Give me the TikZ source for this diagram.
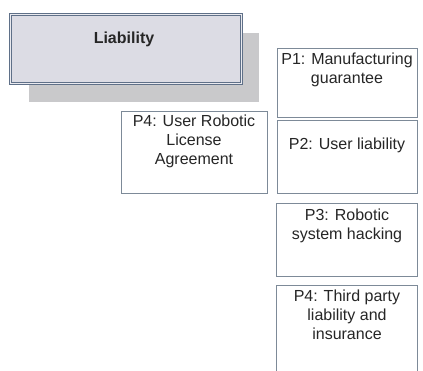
\documentclass[tikz,border=0pt]{standalone}
\usepackage{fontspec}
\setmainfont{Liberation Sans}
\definecolor{bordc}{HTML}{7D8A98}
\definecolor{shadc}{HTML}{C9C9CB}
\definecolor{mainf}{HTML}{DCDCE4}
\definecolor{mainb}{HTML}{5F7088}
\definecolor{txtc}{HTML}{262626}
\begin{document}
\begin{tikzpicture}[x=1pt,y=-1pt,
  box/.style={draw=bordc, line width=0.9pt, fill=white, rectangle, inner sep=0pt, outer sep=0pt, anchor=north west},
  txt/.style={align=center, text=txtc, inner sep=0pt, font=\fontsize{16}{19}\selectfont}]
\useasboundingbox (0,0) rectangle (423,371);
% shadow and main box
\node[rectangle, fill=shadc, inner sep=0pt, anchor=north west, minimum width=230pt, minimum height=69pt] (shadow) at (29,33) {};
\node[rectangle, fill=mainf, draw=mainb, line width=1pt, double=mainf!60!white, double distance=1.6pt, inner sep=0pt, anchor=north west, minimum width=231pt, minimum height=69pt] (main) at (10,14) {};
\node[txt, font=\bfseries\fontsize{16}{19}\selectfont] (liab) at (124,39) {Liability};
% left box
\node[box, minimum width=146pt, minimum height=82pt] (b5) at (121,111) {};
\node[txt] (t5) at (194,141) {P4: User Robotic\\License\\Agreement};
% right column
\node[box, minimum width=140pt, minimum height=69pt] (b1) at (277,48) {};
\node[txt] (t1) at (347,70) {P1: Manufacturing\\guarantee};
\node[box, minimum width=140pt, minimum height=73pt] (b2) at (277,120) {};
\node[txt] (t2) at (347,145) {P2: User liability};
\node[box, minimum width=141pt, minimum height=73pt] (b3) at (276,203) {};
\node[txt] (t3) at (347,226) {P3: Robotic\\system hacking};
\node[box, minimum width=141pt, minimum height=92pt] (b4) at (276,285) {};
\node[txt] (t4) at (347,315) {P4: Third party\\liability and\\insurance};
\end{tikzpicture}
\end{document}
